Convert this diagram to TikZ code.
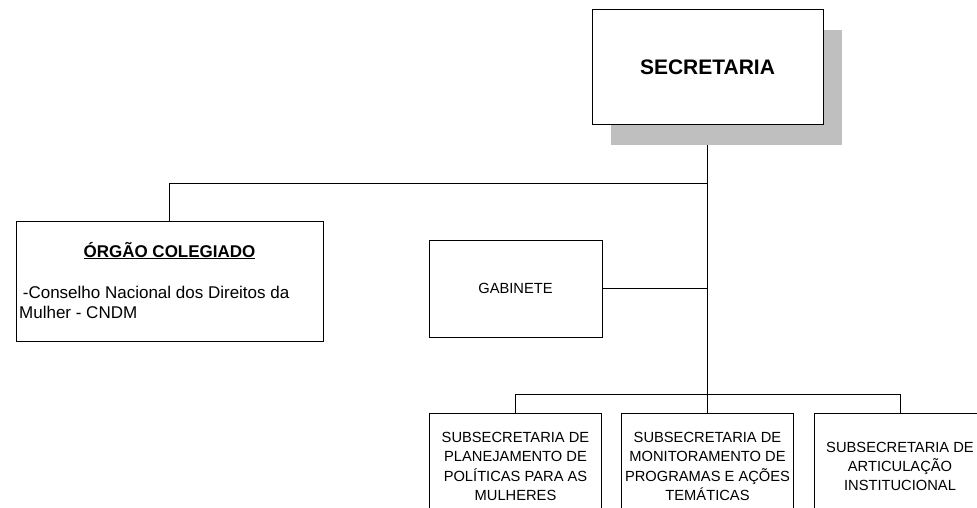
\documentclass[tikz,border=0pt]{standalone}
\usepackage{fontspec}
\setmainfont{Liberation Sans}
\usetikzlibrary{shadows,backgrounds}
\begin{document}
\begin{tikzpicture}[x=1pt,y=-1pt,
  caixa/.style={draw,line width=1pt,fill=white,inner sep=0pt,align=center},
  caixasub/.style={caixa,minimum width=172pt,minimum height=107pt,font=\fontsize{14.7}{19.4}\selectfont},
  linha/.style={line width=0.8pt}]
\useasboundingbox (0,0) rectangle (977,508);
\node[caixa,minimum width=231pt,minimum height=115pt,font=\fontsize{21}{25}\selectfont\bfseries,
  drop shadow={shadow xshift=19pt,shadow yshift=-20pt,fill=black!25,draw=none,opacity=1}] (secretaria) at (707.5,67.5) {SECRETARIA};
\node[caixa,minimum width=307pt,minimum height=120pt] (orgao) at (169.5,281) {};
\node[anchor=base,inner sep=0pt,font=\fontsize{17}{20}\selectfont\bfseries] (orgaotit) at (169.5,257) {\underline{ÓRGÃO COLEGIADO}};
\node[anchor=north west,align=left,inner sep=0pt,font=\fontsize{17}{20}\selectfont] (orgaotxt) at (19,285.8) {\hspace{3.7pt}-Conselho Nacional dos Direitos da\\Mulher - CNDM};
\node[caixa,minimum width=173pt,minimum height=97pt,font=\fontsize{14.7}{18}\selectfont] (gabinete) at (515.5,288.5) {GABINETE};
\node[caixasub] (subplan) at (515.5,466.5) {SUBSECRETARIA DE\\PLANEJAMENTO DE\\POLÍTICAS PARA AS\\MULHERES};
\node[caixasub] (submon) at (707.5,466.5) {SUBSECRETARIA DE\\MONITORAMENTO DE\\PROGRAMAS E AÇÕES\\TEMÁTICAS};
\node[caixasub] (subart) at (900,466.5) {SUBSECRETARIA DE\\ARTICULAÇÃO\\INSTITUCIONAL};
\coordinate (ramo) at (707.5,183);
\coordinate (barra) at (707.5,394.5);
\begin{scope}[on background layer]
\draw[linha] (secretaria.south) -- (submon.north);
\draw[linha] (orgao.north) |- (ramo);
\draw[linha] (gabinete.east) -- (gabinete.east -| secretaria.south);
\draw[linha] (subplan.north) |- (barra) -| (subart.north);
\end{scope}
\end{tikzpicture}
\end{document}
